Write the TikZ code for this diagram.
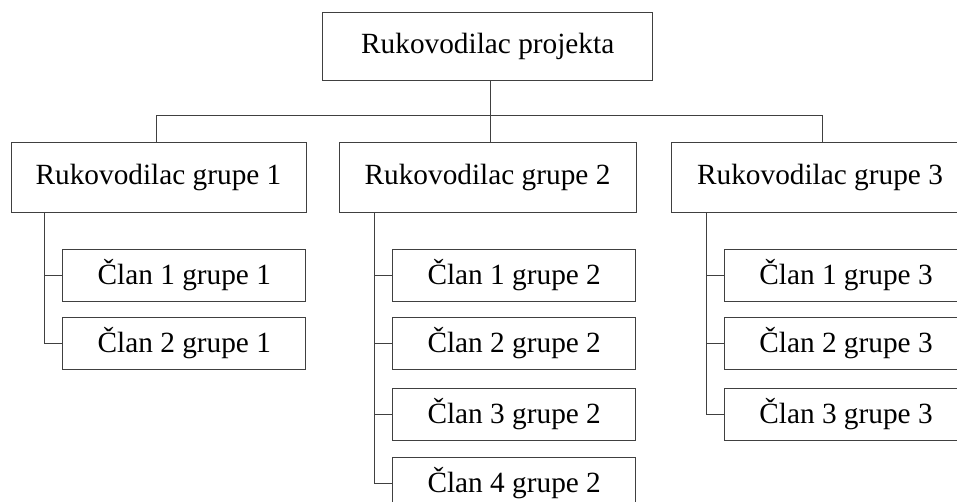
\documentclass[tikz,border=0pt]{standalone}
\usepackage{fontspec}
\setmainfont{Liberation Serif}
\begin{document}
\begin{tikzpicture}[x=1pt,y=-1pt,
  linecol/.style={draw=black!75},
  box/.style={linecol, line width=1pt, fill=white, inner sep=0pt,
    font=\fontsize{29.3}{34}\selectfont},
  headbox/.style={box, minimum height=70},
  memberbox/.style={box, minimum width=243.3, minimum height=52},
  wire/.style={linecol, line width=1pt}]
\useasboundingbox (0,0) rectangle (957,501);
\clip (0,0) rectangle (957,501);

% project lead
\node[box, minimum width=330, minimum height=67.7] (top) at (487.7,46.2) {Rukovodilac projekta};

% group leads
\node[headbox, minimum width=295] (g1) at (158.5,177.7) {Rukovodilac grupe 1};
\node[headbox, minimum width=297] (g2) at (487.5,177.7) {Rukovodilac grupe 2};
\node[headbox, minimum width=298] (g3) at (820,177.7) {Rukovodilac grupe 3};

% members
\node[memberbox] (m11) at (184.3,275)   {Član 1 grupe 1};
\node[memberbox] (m12) at (184.3,343.5) {Član 2 grupe 1};
\node[memberbox] (m21) at (514.2,275)   {Član 1 grupe 2};
\node[memberbox] (m22) at (514.2,343.5) {Član 2 grupe 2};
\node[memberbox] (m23) at (514.2,414.3) {Član 3 grupe 2};
\node[memberbox] (m24) at (514.2,483.5) {Član 4 grupe 2};
\node[memberbox] (m31) at (846,275)     {Član 1 grupe 3};
\node[memberbox] (m32) at (846,343.5)   {Član 2 grupe 3};
\node[memberbox] (m33) at (846,414.3)   {Član 3 grupe 3};

% bus between project lead and group leads
\coordinate (bus) at (490.3,115);
\coordinate (t1) at (156,0);
\coordinate (t2) at (490.3,0);
\coordinate (t3) at (822.3,0);
\draw[wire] (bus |- top.south) -- (bus);
\draw[wire] (t1 |- g1.north) |- (t3 |- bus) -- (t3 |- g3.north);
\draw[wire] (bus) -- (t2 |- g2.north);

% spines from group leads to members
\coordinate (s1) at (44.3,0);
\coordinate (s2) at (374,0);
\coordinate (s3) at (706.7,0);
\draw[wire] (s1 |- g1.south) |- (m12.west);
\draw[wire] (s1 |- m11.west) -- (m11.west);
\draw[wire] (s2 |- g2.south) |- (m24.west);
\foreach \m in {m21,m22,m23} \draw[wire] (s2 |- \m.west) -- (\m.west);
\draw[wire] (s3 |- g3.south) |- (m33.west);
\foreach \m in {m31,m32} \draw[wire] (s3 |- \m.west) -- (\m.west);
\end{tikzpicture}
\end{document}
